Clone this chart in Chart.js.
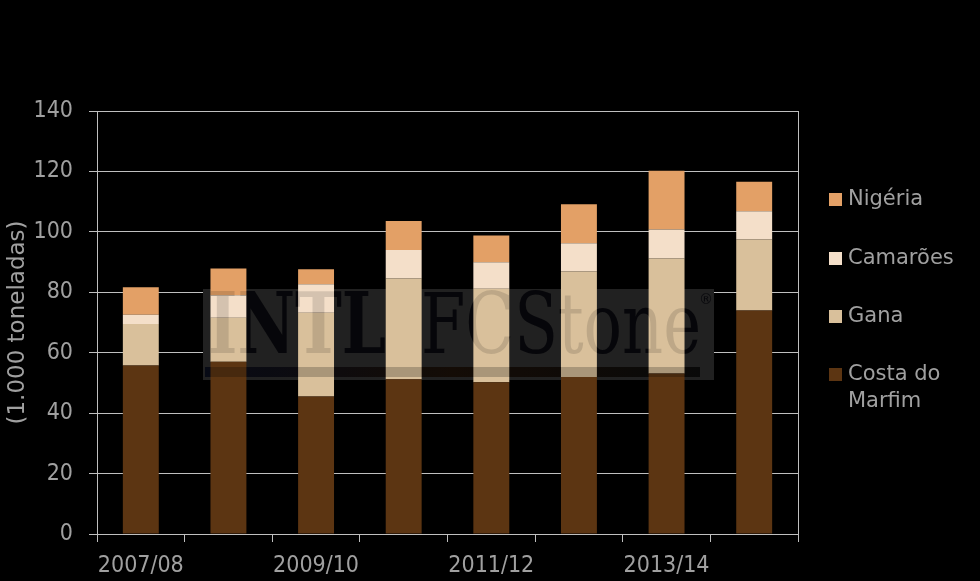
<!DOCTYPE html>
<html>
<head>
<meta charset="utf-8">
<script src="https://cdn.jsdelivr.net/npm/chart.js@4.4.1/dist/chart.umd.min.js"></script>
<style>
  html, body { margin: 0; padding: 0; background: #000; }
  #wrap { position: relative; width: 980px; height: 581px; background: #000; }
  #legend { position: absolute; left: 0; top: 0; font-family: "DejaVu Sans", sans-serif; font-size: 21px; color: #a0a0a0; }
  .item { position: absolute; left: 829px; white-space: nowrap; line-height: 27px; }
  .box { position: absolute; left: 0; top: 8px; width: 13px; height: 13px; }
  .lbl { position: absolute; left: 19px; top: 0; }
</style>
</head>
<body>
<div id="wrap">
  <canvas id="chart" width="980" height="581"></canvas>
  <div id="legend"></div>
</div>
<script>
// =====================
// DATA
// =====================
const categories = ["2007/08", "2008/09", "2009/10", "2010/11", "2011/12", "2012/13", "2013/14", "2014/15"];

const costaDoMarfim = [55.8, 57.0, 45.5, 51.2, 50.2, 52.0, 53.1, 74.0];
const gana          = [13.7, 14.6, 27.7, 33.4, 31.0, 34.9, 38.1, 23.5];
const camaroes      = [3.1, 7.4, 9.5, 9.4, 8.7, 9.3, 9.6, 9.3];
const nigeria       = [9.1, 8.9, 4.9, 9.6, 8.9, 12.9, 19.4, 9.8];

const yTicks = [0, 20, 40, 60, 80, 100, 120, 140];

const GRID = "#bfbfbf";
const TEXT = "#a0a0a0";

// legend (top to bottom, as in the picture)
const legendItems = [
    { text: ["Nigéria"], color: "#e3a066", top: 185 },
    { text: ["Camarões"], color: "#f4dfc9", top: 244 },
    { text: ["Gana"], color: "#d9c09b", top: 302 },
    { text: ["Costa do", "Marfim"], color: "#5c3512", top: 360 }
];

const legendEl = document.getElementById("legend");
legendItems.forEach(it => {
    const d = document.createElement("div");
    d.className = "item";
    d.style.top = it.top + "px";
    d.innerHTML = `<span class="box" style="background:${it.color}"></span>
                   <span class="lbl">${it.text.join("<br>")}</span>`;
    legendEl.appendChild(d);
});

// =====================
// WATERMARK + RIGHT BORDER
// =====================
const watermark = {
    id: "watermark",
    beforeDatasetsDraw(chart) {
        const c = chart.ctx;
        c.save();
        c.fillStyle = "#212121";
        c.fillRect(203, 289, 511, 91);
        const g = c.createLinearGradient(205, 0, 700, 0);
        g.addColorStop(0, "#0a0e1c");
        g.addColorStop(0.5, "#1a1008");
        g.addColorStop(1, "#0c0c0c");
        c.fillStyle = g;
        c.fillRect(205, 367, 495, 10);
        c.fillStyle = "#08080c";
        c.textBaseline = "alphabetic";
        c.font = "bold 84px 'DejaVu Serif'";
        c.fillText("INTL", 208, 353, 178);
        c.fillRect(399, 318, 7, 7);
        c.font = "84px 'DejaVu Serif'";
        c.fillText("FCStone", 421, 353, 280);
        c.font = "14px 'DejaVu Sans'";
        c.fillText("®", 699, 304);
        c.restore();
    },
    afterDatasetsDraw(chart) {
        const c = chart.ctx;
        c.save();
        c.fillStyle = "rgba(0,0,0,0.13)";
        c.font = "bold 84px 'DejaVu Serif'";
        c.fillText("INTL", 208, 353, 178);
        c.font = "84px 'DejaVu Serif'";
        c.fillText("FCStone", 421, 353, 280);
        c.fillStyle = "rgba(0,0,0,0.22)";
        c.fillRect(205, 367, 495, 10);
        // right border of plot
        const a = chart.chartArea;
        c.strokeStyle = GRID;
        c.lineWidth = 1;
        c.beginPath();
        c.moveTo(Math.round(a.right) + 0.5, a.top);
        c.lineTo(Math.round(a.right) + 0.5, a.bottom + 8);
        c.stroke();
        c.restore();
    }
};

// =====================
// CHART
// =====================
new Chart(document.getElementById("chart"), {
    type: "bar",
    data: {
        labels: categories,
        datasets: [
            { label: "Costa do Marfim", data: costaDoMarfim, backgroundColor: "#5c3512" },
            { label: "Gana", data: gana, backgroundColor: "#d9c09b" },
            { label: "Camarões", data: camaroes, backgroundColor: "#f4dfc9" },
            { label: "Nigéria", data: nigeria, backgroundColor: "#e3a066" }
        ]
    },
    options: {
        responsive: false,
        animation: false,
        layout: { padding: { top: 111, right: 182, left: 0, bottom: 0 } },
        datasets: { bar: { barPercentage: 0.41, categoryPercentage: 1 } },
        plugins: {
            legend: { display: false },
            tooltip: { enabled: false }
        },
        scales: {
            x: {
                stacked: true,
                offset: true,
                grid: { offset: true, drawOnChartArea: false, color: GRID, tickLength: 8 },
                border: { color: GRID },
                ticks: {
                    color: TEXT,
                    font: { family: "'DejaVu Sans Condensed', 'DejaVu Sans'", size: 23 },
                    autoSkip: false,
                    maxRotation: 0,
                    padding: 10,
                    callback: (v, i) => i % 2 === 0 ? categories[i] : ""
                },
                afterFit: s => { s.height = 47; }
            },
            y: {
                stacked: true,
                min: 0,
                max: 140,
                afterBuildTicks: s => { s.ticks = yTicks.map(v => ({ value: v })); },
                grid: { color: GRID, tickLength: 8 },
                border: { color: GRID },
                ticks: {
                    color: TEXT,
                    font: { family: "'DejaVu Sans Condensed', 'DejaVu Sans'", size: 23 },
                    padding: 16
                },
                title: {
                    display: true,
                    text: "(1.000 toneladas)",
                    color: TEXT,
                    font: { family: "'DejaVu Sans'", size: 23 },
                    padding: 4
                },
                afterFit: s => { s.width = 97; }
            }
        }
    },
    plugins: [watermark]
});
</script>
</body>
</html>
